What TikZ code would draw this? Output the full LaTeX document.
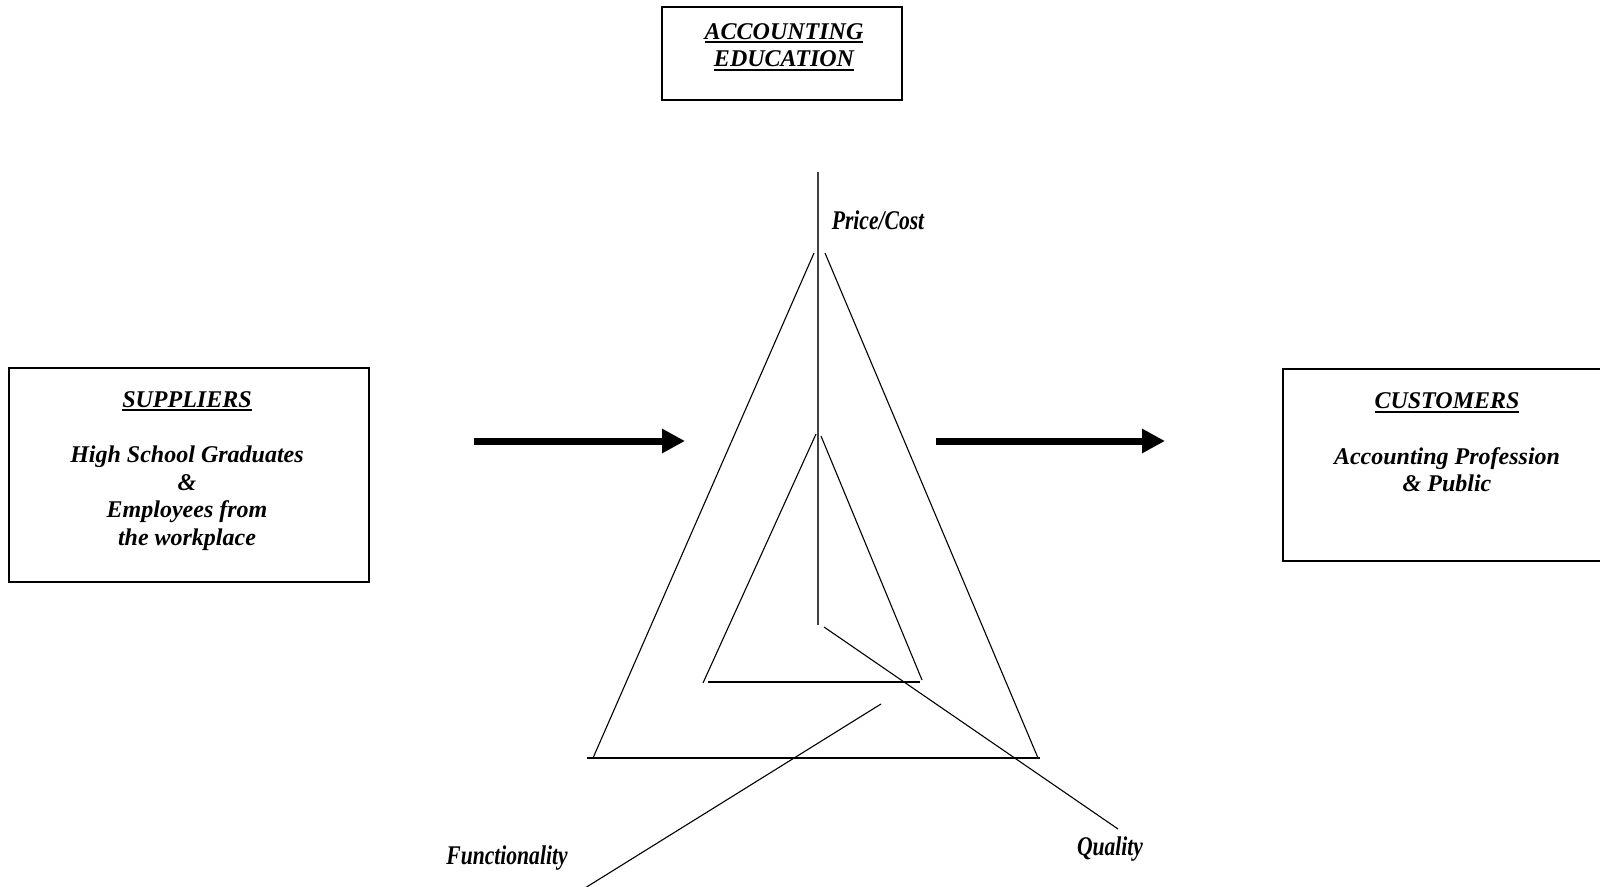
\documentclass[tikz,border=0pt]{standalone}
\usepackage{fontspec}
\setmainfont{Liberation Serif}
\newfontfamily\condfont[FakeStretch=0.8]{Liberation Serif}
\newcommand\myul[1]{{\setbox0\hbox{#1}\rlap{\rule[-1.8pt]{\wd0}{0.9pt}}\box0}}
\usetikzlibrary{arrows.meta}
\begin{document}
\begin{tikzpicture}[x=0.5pt,y=-0.5pt,
  box/.style={draw,line width=1pt,inner sep=0pt},
  boxtext/.style={align=center,font=\fontsize{12}{13.8}\selectfont\bfseries\itshape,inner sep=0pt},
  axislabel/.style={font=\fontsize{13.5}{15}\selectfont\condfont\bfseries\itshape,inner sep=0pt},
  thin/.style={line width=0.55pt},
  axis/.style={line width=0.8pt,black!75},
  bigarrow/.style={line width=3.5pt,-{Triangle[length=11.5pt,width=11.5pt]}}]
\clip (0,0) rectangle (1600,887);
\fill[white] (0,0) rectangle (1600,887);

% boxes
\node[box,minimum width=120pt,minimum height=46.5pt] (edu) at (782,53.5) {};
\node[boxtext] (edutext) at (784,47) {\myul{ACCOUNTING}\\\myul{EDUCATION}};

\node[box,minimum width=180pt,minimum height=107pt] (sup) at (189,475) {};
\node[boxtext] (suptext) at (187,471) {\myul{SUPPLIERS}\\[13.8pt]High School Graduates\\\&\\Employees from\\the workplace};

\node[box,minimum width=165pt,minimum height=96pt] (cus) at (1448,465) {};
\node[boxtext] (custext) at (1447,442.5) {\myul{CUSTOMERS}\\[13.8pt]Accounting Profession\\\& Public};

% arrows
\coordinate (a1s) at (474,441);
\coordinate (a1e) at (685,441);
\coordinate (a2s) at (936,441);
\coordinate (a2e) at (1165,441);
\draw[bigarrow] (a1s) -- (a1e);
\draw[bigarrow] (a2s) -- (a2e);

% outer triangle
\coordinate (otl) at (814,253);
\coordinate (otr) at (825,253);
\coordinate (obl) at (593,758);
\coordinate (obr) at (1038,758);
\coordinate (ob1) at (587,758);
\coordinate (ob2) at (1040,758);
\draw[thin] (otl) -- (obl);
\draw[thin] (otr) -- (obr);
\draw[thin] (ob1) -- (ob2);

% inner triangle
\coordinate (itl) at (816,434);
\coordinate (itr) at (821,436);
\coordinate (ibl) at (703,683);
\coordinate (ibr) at (922,680);
\coordinate (ib1) at (708,682);
\coordinate (ib2) at (920,682);
\draw[thin] (itl) -- (ibl);
\draw[thin] (itr) -- (ibr);
\draw[thin] (ib1) -- (ib2);

% axes
\coordinate (vt) at (818,172);
\coordinate (vb) at (818,625);
\draw[axis] (vt) -- (vb);
\coordinate (qs) at (824,627);
\coordinate (qe) at (1118,829);
\draw[thin] (qs) -- (qe);
\coordinate (fs) at (881,704);
\coordinate (fe) at (585,888);
\draw[thin] (fs) -- (fe);

% labels
\node[axislabel] (price) at (878,220) {Price/Cost};
\node[axislabel] (quality) at (1110,849) {Quality};
\node[axislabel] (func) at (507,858) {Functionality};
\end{tikzpicture}
\end{document}
